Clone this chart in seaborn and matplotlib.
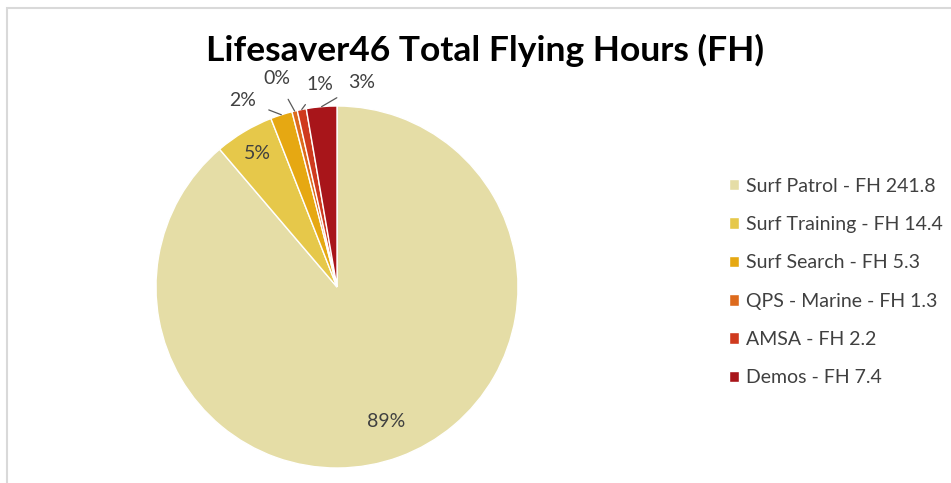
import numpy as np
import seaborn as sns
import matplotlib.pyplot as plt
from matplotlib.patches import Rectangle

# flying hours per task
tasks = ["Surf Patrol", "Surf Training", "Surf Search", "QPS - Marine", "AMSA", "Demos"]
hours = [241.8, 14.4, 5.3, 1.3, 2.2, 7.4]
colours = ["#E5DDA6", "#E6C84A", "#E6A812", "#DD6A1D", "#CF3A1E", "#A8151A"]

# label placement for the small slices (outside, with leader lines)
outside_text = {2: (243, 100), 3: (277, 79), 4: (320, 85), 5: (362, 83)}
inside_dist = {0: 0.79, 1: 0.86}

sns.set_theme(style="white")
plt.rcParams["font.family"] = ["Lato", "DejaVu Sans"]
sns.set_palette(colours)

fig = plt.figure(figsize=(9.51, 4.83), dpi=100)
W, H = 951, 483
cx, cy, r = 337, 287, 181
ax = fig.add_axes([(cx - r) / W, (H - cy - r) / H, 2 * r / W, 2 * r / H])

legend_labels = [f"{t} - FH {h}" for t, h in zip(tasks, hours)]
wedges, _ = ax.pie(hours, startangle=90, counterclock=False,
                   colors=sns.color_palette(),
                   wedgeprops=dict(edgecolor="white", linewidth=1))
ax.set_xlim(-1, 1)
ax.set_ylim(-1, 1)

total = sum(hours)
txt_col = "#404040"
for i, w in enumerate(wedges):
    pct = f"{round(hours[i] / total * 100):.0f}%"
    mid = np.deg2rad((w.theta1 + w.theta2) / 2)
    ex, ey = np.cos(mid), np.sin(mid)
    if i in inside_dist:
        d = inside_dist[i]
        ax.text(d * ex, d * ey, pct, ha="center", va="center",
                fontsize=14, color=txt_col)
    else:
        tx, ty = outside_text[i]
        tx, ty = (tx - cx) / r, (cy - ty) / r
        ax.annotate(pct, xy=(ex, ey), xytext=(tx, ty), ha="center", va="center",
                    fontsize=14, color=txt_col, annotation_clip=False,
                    arrowprops=dict(arrowstyle="-", color="#595959", lw=0.9,
                                    shrinkA=7, shrinkB=0))

fig.legend(wedges, legend_labels, loc="upper left", bbox_to_anchor=(711 / W, 1 - 160 / H),
           frameon=False, fontsize=14, labelspacing=1.1, handlelength=0.55,
           handleheight=0.55, handletextpad=0.35, labelcolor=txt_col)

fig.text(485 / W, 1 - 50 / H, "Lifesaver46 Total Flying Hours (FH)", ha="center",
         va="center", fontsize=25.5, fontweight="bold", color="black")

# light chart frame (only top and left edges are visible)
fig.patches.append(Rectangle((7 / W, -0.05), 1.1, 1.05 - 8 / H, transform=fig.transFigure,
                             fill=False, edgecolor="#D9D9D9", lw=1.5))

plt.savefig("out.png", dpi=100)
